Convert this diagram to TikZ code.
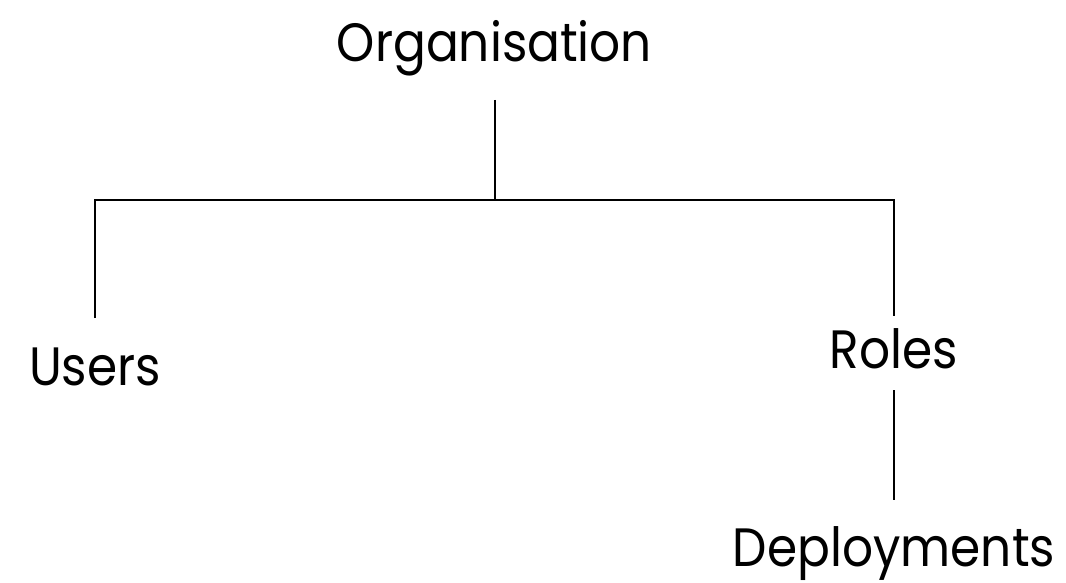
\documentclass[tikz,border=0pt]{standalone}
\usepackage{fontspec}
\setmainfont[FakeStretch=0.9]{Poppins}
\begin{document}
\begin{tikzpicture}[x=1pt,y=-1pt,
  label/.style={anchor=base,inner sep=0pt,font=\fontsize{54}{60}\selectfont},
  link/.style={draw=black,line width=2pt}]
\useasboundingbox (0,0) rectangle (1066,583);
\node[label] (org)    at (494.5,62) {Organisation};
\node[label] (users)  at (95,385)   {Users};
\node[label] (roles)  at (894,368)  {Roles};
\node[label] (deploy) at (894,566)  {Deployments};
% tree connectors
\draw[link] ([yshift=-38pt]org.base) -- ++(0,100) coordinate (hub);
\draw[link] ([yshift=67pt]users.base) |- (hub) -| ([yshift=52pt]roles.base);
\draw[link] ([yshift=-22pt]roles.base) -- ([yshift=66pt]deploy.base);
\end{tikzpicture}
\end{document}
